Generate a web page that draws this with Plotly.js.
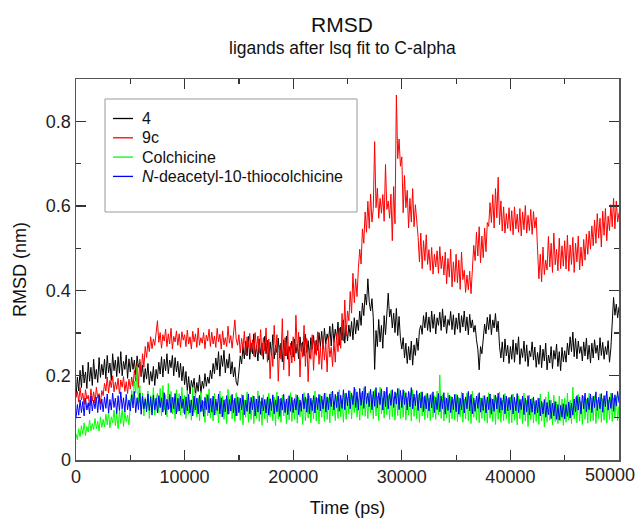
<!DOCTYPE html>
<html>
<head>
<meta charset="utf-8">
<script src="https://cdn.plot.ly/plotly-3.0.1.min.js"></script>
<style>html,body{margin:0;padding:0;background:#fff;}#chart{width:640px;height:518px;}</style>
</head>
<body>
<div id="chart"></div>
<script>
// Sampling interval of the read-off values (ps)
const timeStep = 125;

const seriesNames = ["4", "9c", "Colchicine", "<i>N</i>-deacetyl-10-thiocolchicine"];
const seriesColors = ["#000000", "#ff0000", "#00ff00", "#0000ff"];

const rmsd4 = [
0.148,0.196,0.163,0.212,0.171,0.224,0.182,0.208,0.169,0.231,0.186,0.219,0.176,0.238,0.191,0.214,0.183,0.242,0.195,0.226,
0.201,0.238,0.192,0.247,0.206,0.229,0.188,0.251,0.211,0.236,0.197,0.244,0.205,0.256,0.199,0.233,0.214,0.248,0.193,0.239,
0.208,0.243,0.214,0.236,0.201,0.246,0.219,0.232,0.197,0.224,0.183,0.216,0.191,0.228,0.178,0.209,0.186,0.221,0.176,0.214,
0.192,0.231,0.203,0.244,0.196,0.238,0.211,0.251,0.204,0.236,0.218,0.247,0.199,0.242,0.208,0.233,0.195,0.229,0.187,0.221,
0.178,0.209,0.164,0.197,0.156,0.188,0.171,0.193,0.152,0.183,0.162,0.201,0.158,0.186,0.169,0.204,0.174,0.196,0.181,0.212,
0.192,0.228,0.204,0.241,0.213,0.256,0.198,0.247,0.221,0.259,0.206,0.238,0.217,0.251,0.203,0.232,0.196,0.219,0.184,0.176,
0.208,0.246,0.227,0.268,0.239,0.281,0.246,0.292,0.238,0.276,0.251,0.298,0.243,0.271,0.234,0.286,0.249,0.276,0.238,0.292,
0.251,0.283,0.236,0.279,0.247,0.296,0.239,0.271,0.254,0.288,0.241,0.276,0.232,0.284,0.246,0.293,0.238,0.268,0.249,0.281,
0.243,0.286,0.252,0.274,0.239,0.291,0.257,0.279,0.246,0.297,0.254,0.282,0.241,0.289,0.262,0.294,0.251,0.283,0.259,0.301,
0.268,0.304,0.262,0.311,0.274,0.298,0.281,0.316,0.269,0.322,0.278,0.309,0.285,0.326,0.271,0.314,0.283,0.331,0.276,0.318,
0.281,0.319,0.292,0.327,0.284,0.336,0.298,0.331,0.306,0.352,0.318,0.371,0.341,0.392,0.366,0.428,0.374,0.352,0.381,0.336,
0.214,0.306,0.268,0.332,0.279,0.318,0.264,0.341,0.296,0.362,0.394,0.338,0.356,0.312,0.347,0.301,0.358,0.294,0.339,0.286,
0.262,0.289,0.241,0.276,0.228,0.268,0.236,0.281,0.224,0.272,0.247,0.288,0.259,0.306,0.318,0.297,0.341,0.312,0.349,0.306,
0.338,0.302,0.352,0.311,0.344,0.298,0.336,0.318,0.349,0.306,0.357,0.314,0.341,0.299,0.332,0.318,0.351,0.308,0.343,0.296,
0.336,0.309,0.347,0.301,0.341,0.314,0.352,0.305,0.338,0.296,0.344,0.312,0.331,0.302,0.318,0.284,0.262,0.213,0.268,0.251,
0.284,0.321,0.298,0.337,0.308,0.344,0.296,0.331,0.312,0.346,0.303,0.328,0.268,0.241,0.279,0.232,0.286,0.246,0.271,0.228,
0.268,0.238,0.284,0.231,0.276,0.249,0.291,0.226,0.263,0.242,0.281,0.233,0.272,0.221,0.258,0.244,0.279,0.236,0.267,0.219,
0.254,0.226,0.271,0.218,0.262,0.234,0.276,0.213,0.248,0.229,0.268,0.216,0.259,0.238,0.274,0.221,0.256,0.211,0.266,0.232,
0.258,0.231,0.276,0.248,0.291,0.256,0.302,0.244,0.287,0.239,0.281,0.252,0.268,0.234,0.279,0.246,0.288,0.238,0.271,0.229,
0.276,0.241,0.284,0.252,0.271,0.236,0.289,0.247,0.278,0.238,0.268,0.249,0.282,0.231,0.264,0.327,0.384,0.342,0.368,0.336,
0.362];

const rmsd9c = [
0.148,0.162,0.137,0.171,0.142,0.158,0.131,0.166,0.144,0.153,0.128,0.168,0.139,0.161,0.134,0.172,0.146,0.157,0.133,0.164,
0.152,0.181,0.163,0.196,0.158,0.188,0.171,0.199,0.161,0.184,0.167,0.193,0.156,0.189,0.172,0.197,0.162,0.185,0.157,0.191,
0.168,0.196,0.174,0.212,0.186,0.227,0.171,0.238,0.198,0.251,0.219,0.268,0.242,0.279,0.256,0.291,0.263,0.286,0.271,0.298,
0.329,0.278,0.301,0.264,0.296,0.281,0.309,0.268,0.298,0.274,0.311,0.262,0.292,0.279,0.305,0.271,0.298,0.266,0.303,0.283,
0.296,0.268,0.307,0.274,0.291,0.262,0.304,0.279,0.298,0.266,0.312,0.271,0.289,0.276,0.301,0.263,0.295,0.281,0.309,0.268,
0.302,0.274,0.293,0.266,0.311,0.279,0.297,0.262,0.305,0.272,0.289,0.268,0.316,0.276,0.294,0.264,0.308,0.331,0.286,0.271,
0.296,0.253,0.287,0.262,0.304,0.248,0.291,0.267,0.299,0.256,0.284,0.245,0.301,0.261,0.293,0.252,0.308,0.246,0.289,0.258,
0.312,0.231,0.286,0.192,0.264,0.221,0.318,0.248,0.296,0.186,0.271,0.238,0.334,0.213,0.289,0.246,0.306,0.198,0.276,0.229,
0.291,0.234,0.342,0.258,0.302,0.196,0.276,0.243,0.318,0.221,0.287,0.185,0.264,0.238,0.296,0.212,0.281,0.247,0.303,0.226,
0.268,0.214,0.289,0.236,0.276,0.208,0.291,0.243,0.266,0.221,0.284,0.231,0.298,0.256,0.312,0.264,0.346,0.281,0.378,0.293,
0.352,0.329,0.398,0.347,0.441,0.372,0.428,0.386,0.452,0.498,0.463,0.546,0.512,0.586,0.538,0.611,0.547,0.628,0.562,0.594,
0.752,0.596,0.642,0.571,0.618,0.583,0.627,0.564,0.698,0.592,0.612,0.571,0.628,0.518,0.646,0.558,0.862,0.712,0.758,0.694,
0.716,0.584,0.672,0.596,0.637,0.548,0.618,0.562,0.641,0.551,0.603,0.568,0.527,0.468,0.536,0.452,0.518,0.471,0.532,0.462,
0.497,0.448,0.502,0.439,0.486,0.456,0.494,0.441,0.504,0.452,0.482,0.437,0.491,0.416,0.476,0.432,0.498,0.409,0.468,0.421,
0.486,0.418,0.472,0.403,0.491,0.426,0.448,0.396,0.437,0.402,0.446,0.393,0.462,0.507,0.471,0.538,0.482,0.551,0.466,0.529,
0.478,0.548,0.492,0.561,0.552,0.608,0.561,0.627,0.548,0.641,0.572,0.668,0.556,0.612,0.541,0.598,0.536,0.582,0.547,0.596,
0.541,0.589,0.532,0.598,0.546,0.581,0.538,0.594,0.529,0.586,0.544,0.601,0.536,0.578,0.542,0.592,0.533,0.587,0.548,0.573,
0.497,0.428,0.486,0.421,0.503,0.438,0.472,0.449,0.528,0.456,0.512,0.443,0.536,0.461,0.498,0.447,0.524,0.452,0.506,0.458,
0.518,0.451,0.531,0.446,0.508,0.462,0.526,0.443,0.512,0.468,0.529,0.449,0.503,0.458,0.521,0.472,0.534,0.486,0.541,0.498,
0.553,0.506,0.567,0.512,0.582,0.524,0.571,0.503,0.588,0.531,0.594,0.518,0.576,0.542,0.603,0.551,0.618,0.546,0.612,0.562,
0.584];

const rmsdColchicine = [
0.062,0.048,0.074,0.055,0.081,0.061,0.088,0.058,0.079,0.066,0.094,0.069,0.086,0.072,0.098,0.074,0.091,0.068,0.102,0.077,
0.096,0.078,0.108,0.083,0.114,0.076,0.102,0.088,0.118,0.081,0.109,0.074,0.116,0.086,0.121,0.079,0.112,0.091,0.106,0.083,
0.128,0.164,0.142,0.186,0.158,0.221,0.132,0.176,0.118,0.158,0.104,0.148,0.121,0.163,0.098,0.152,0.112,0.171,0.106,0.143,
0.158,0.112,0.169,0.104,0.176,0.118,0.154,0.102,0.181,0.121,0.162,0.109,0.148,0.097,0.166,0.114,0.157,0.106,0.172,0.111,
0.153,0.098,0.164,0.108,0.142,0.094,0.171,0.112,0.158,0.101,0.147,0.093,0.162,0.116,0.139,0.089,0.156,0.104,0.168,0.099,
0.146,0.092,0.158,0.107,0.137,0.088,0.163,0.102,0.151,0.096,0.144,0.086,0.167,0.109,0.152,0.097,0.141,0.091,0.159,0.104,
0.148,0.094,0.156,0.083,0.142,0.101,0.161,0.089,0.137,0.096,0.152,0.086,0.145,0.098,0.163,0.091,0.139,0.082,0.154,0.097,
0.143,0.088,0.158,0.102,0.136,0.093,0.149,0.081,0.161,0.097,0.144,0.089,0.153,0.104,0.138,0.086,0.147,0.095,0.159,0.091,
0.141,0.096,0.155,0.087,0.148,0.102,0.137,0.084,0.159,0.093,0.145,0.099,0.152,0.088,0.141,0.097,0.163,0.092,0.146,0.085,
0.154,0.101,0.142,0.091,0.158,0.096,0.147,0.088,0.161,0.104,0.139,0.093,0.151,0.098,0.166,0.102,0.143,0.089,0.157,0.096,
0.148,0.108,0.163,0.097,0.152,0.112,0.168,0.101,0.143,0.094,0.159,0.106,0.171,0.103,0.149,0.098,0.162,0.111,0.154,0.097,
0.166,0.104,0.151,0.093,0.172,0.109,0.147,0.099,0.161,0.107,0.153,0.096,0.164,0.102,0.148,0.094,0.158,0.105,0.169,0.098,
0.152,0.101,0.163,0.094,0.148,0.106,0.159,0.092,0.166,0.103,0.147,0.097,0.154,0.089,0.161,0.104,0.149,0.095,0.157,0.099,
0.146,0.093,0.158,0.101,0.152,0.096,0.163,0.107,0.201,0.098,0.154,0.092,0.148,0.099,0.159,0.088,0.151,0.097,0.143,0.094,
0.156,0.091,0.148,0.102,0.161,0.089,0.144,0.097,0.158,0.093,0.151,0.086,0.163,0.101,0.142,0.094,0.155,0.088,0.147,0.098,
0.152,0.093,0.143,0.087,0.159,0.099,0.146,0.091,0.154,0.084,0.148,0.096,0.161,0.089,0.141,0.093,0.157,0.097,0.145,0.086,
0.149,0.088,0.156,0.094,0.138,0.083,0.152,0.097,0.144,0.086,0.158,0.092,0.141,0.079,0.153,0.095,0.146,0.087,0.139,0.091,
0.147,0.084,0.156,0.092,0.136,0.078,0.149,0.089,0.161,0.094,0.142,0.083,0.153,0.091,0.138,0.086,0.151,0.093,0.144,0.082,
0.146,0.089,0.158,0.094,0.141,0.086,0.172,0.097,0.149,0.088,0.155,0.092,0.139,0.084,0.151,0.096,0.144,0.087,0.158,0.091,
0.147,0.093,0.152,0.086,0.141,0.098,0.156,0.089,0.145,0.094,0.153,0.087,0.142,0.096,0.158,0.091,0.147,0.099,0.151,0.093,
0.128];

const rmsdThio = [
0.098,0.131,0.106,0.142,0.112,0.138,0.104,0.146,0.118,0.135,0.109,0.151,0.116,0.141,0.121,0.148,0.112,0.153,0.119,0.144,
0.114,0.149,0.122,0.156,0.111,0.143,0.118,0.158,0.124,0.146,0.109,0.152,0.117,0.161,0.121,0.147,0.113,0.155,0.119,0.142,
0.116,0.154,0.123,0.162,0.112,0.147,0.119,0.158,0.108,0.151,0.121,0.144,0.114,0.156,0.117,0.149,0.106,0.153,0.118,0.146,
0.111,0.152,0.124,0.147,0.113,0.159,0.107,0.143,0.119,0.155,0.112,0.148,0.121,0.157,0.109,0.146,0.116,0.151,0.122,0.144,
0.108,0.149,0.116,0.155,0.111,0.142,0.104,0.151,0.118,0.146,0.109,0.153,0.114,0.141,0.103,0.148,0.119,0.154,0.111,0.145,
0.113,0.151,0.106,0.144,0.117,0.156,0.109,0.147,0.102,0.142,0.114,0.152,0.108,0.143,0.116,0.155,0.111,0.146,0.104,0.149,
0.112,0.146,0.118,0.153,0.107,0.141,0.115,0.156,0.109,0.148,0.119,0.151,0.104,0.144,0.113,0.152,0.108,0.147,0.116,0.143,
0.111,0.149,0.106,0.145,0.117,0.154,0.109,0.142,0.114,0.151,0.103,0.146,0.118,0.155,0.112,0.144,0.107,0.152,0.115,0.148,
0.112,0.145,0.118,0.153,0.107,0.142,0.115,0.156,0.121,0.149,0.113,0.158,0.109,0.146,0.117,0.152,0.111,0.148,0.119,0.155,
0.116,0.151,0.121,0.158,0.113,0.149,0.119,0.156,0.126,0.163,0.118,0.155,0.124,0.161,0.115,0.153,0.122,0.166,0.119,0.158,
0.128,0.164,0.121,0.158,0.131,0.172,0.124,0.161,0.118,0.169,0.129,0.163,0.122,0.174,0.133,0.158,0.126,0.167,0.119,0.162,
0.127,0.171,0.123,0.159,0.131,0.168,0.118,0.163,0.126,0.172,0.121,0.157,0.129,0.166,0.124,0.161,0.132,0.169,0.119,0.164,
0.124,0.166,0.131,0.159,0.118,0.162,0.126,0.171,0.121,0.156,0.128,0.164,0.117,0.158,0.123,0.161,0.114,0.152,0.121,0.157,
0.116,0.154,0.123,0.161,0.112,0.148,0.119,0.157,0.114,0.151,0.121,0.159,0.108,0.146,0.117,0.153,0.112,0.149,0.119,0.155,
0.114,0.153,0.108,0.146,0.118,0.158,0.111,0.149,0.121,0.162,0.116,0.155,0.109,0.147,0.115,0.151,0.122,0.159,0.113,0.146,
0.117,0.152,0.111,0.149,0.119,0.156,0.108,0.144,0.115,0.153,0.121,0.158,0.112,0.147,0.118,0.154,0.109,0.151,0.116,0.148,
0.118,0.154,0.109,0.148,0.116,0.157,0.112,0.143,0.119,0.151,0.107,0.146,0.114,0.152,0.106,0.144,0.113,0.149,0.108,0.141,
0.111,0.146,0.104,0.139,0.109,0.143,0.101,0.136,0.107,0.141,0.098,0.134,0.104,0.138,0.096,0.131,0.094,0.129,0.101,0.133,
0.097,0.131,0.103,0.137,0.099,0.134,0.106,0.144,0.113,0.152,0.118,0.149,0.109,0.153,0.121,0.158,0.114,0.147,0.119,0.156,
0.112,0.151,0.124,0.161,0.117,0.148,0.121,0.157,0.113,0.152,0.126,0.163,0.118,0.149,0.122,0.158,0.115,0.154,0.128,0.162,
0.135];

const xTickVals = [0, 10000, 20000, 30000, 40000, 50000];
const xTickText = ["0", "10000", "20000", "30000", "40000", "50000"];
const yTickVals = [0, 0.2, 0.4, 0.6, 0.8];
const yTickText = ["0", "0.2", "0.4", "0.6", "0.8"];

const allSeries = [rmsd4, rmsd9c, rmsdColchicine, rmsdThio];
const time = rmsd4.map((_, i) => i * timeStep);

const traces = allSeries.map((vals, k) => ({
  type: "scatter", mode: "lines",
  x: time, y: vals,
  name: seriesNames[k],
  line: {color: seriesColors[k], width: 1},
  hoverinfo: "skip",
  showlegend: false
}));

// plot-area pixel geometry (for legend / subtitle placement)
const L = 76, R = 619, T = 79, B = 460;
const px = x => (x - L) / (R - L);
const py = y => (B - y) / (B - T);
const FONT = "Liberation Sans, Arial, sans-serif";

const lastIdx = xTickVals.length - 1;
// the last x tick label sits against the page edge, as in the reference: drawn as an annotation
const shownTickText = xTickText.map((t, i) => (i === lastIdx ? "" : t));

const shapes = [{
  type: "rect", xref: "paper", yref: "paper",
  x0: px(105), x1: px(357), y0: py(212), y1: py(99),
  line: {color: "#9a9a9a", width: 1}, fillcolor: "rgba(255,255,255,0)", layer: "above"
}];
const annotations = [{
  xref: "paper", yref: "paper", x: px(342), y: py(48), xanchor: "center", yanchor: "middle",
  showarrow: false, text: "ligands after lsq fit to C-alpha",
  font: {family: FONT, size: 17.5, color: "#111"}
}, {
  xref: "x", yref: "paper", x: xTickVals[lastIdx], y: py(475), xanchor: "right", yanchor: "middle",
  xshift: 18, showarrow: false, text: xTickText[lastIdx],
  font: {family: FONT, size: 18, color: "#222"}
}];
seriesNames.forEach((nm, k) => {
  const yc = 118.5 + k * 19.3;
  shapes.push({type: "line", xref: "paper", yref: "paper",
    x0: px(113), x1: px(133), y0: py(yc), y1: py(yc),
    line: {color: seriesColors[k], width: 1.3}, layer: "above"});
  annotations.push({xref: "paper", yref: "paper", x: px(140), y: py(yc),
    xanchor: "left", yanchor: "middle", showarrow: false, text: nm,
    font: {family: FONT, size: 16, color: "#111"}});
});

const axisCommon = {
  showline: true, linecolor: "#555", linewidth: 1.5, mirror: "allticks",
  ticks: "inside", ticklen: 10, tickwidth: 1.2, tickcolor: "#333",
  showgrid: false, zeroline: false, fixedrange: true,
  tickfont: {family: FONT, size: 18, color: "#222"}
};

const layout = {
  width: 640, height: 518,
  margin: {l: L, r: 640 - R, t: T, b: 518 - B},
  paper_bgcolor: "#fff", plot_bgcolor: "#fff",
  showlegend: false,
  font: {family: FONT, color: "#111"},
  title: {
    text: "RMSD",
    font: {family: FONT, size: 21, color: "#111"},
    xref: "paper", x: px(342), xanchor: "center",
    yref: "container", y: 1 - 25 / 518, yanchor: "middle"
  },
  xaxis: Object.assign({}, axisCommon, {
    range: [0, 50000],
    tickmode: "array", tickvals: xTickVals, ticktext: shownTickText,
    minor: {tickmode: "linear", tick0: 0, dtick: 5000, ticks: "inside", ticklen: 5, tickwidth: 1.2, tickcolor: "#333"},
    title: {text: "Time (ps)", font: {family: FONT, size: 18, color: "#111"}, standoff: 20}
  }),
  yaxis: Object.assign({}, axisCommon, {
    range: [0, 0.9],
    tickmode: "array", tickvals: yTickVals, ticktext: yTickText,
    minor: {tickmode: "linear", tick0: 0, dtick: 0.1, ticks: "inside", ticklen: 5, tickwidth: 1.2, tickcolor: "#333"},
    title: {text: "RMSD (nm)", font: {family: FONT, size: 18, color: "#111"}, standoff: 14}
  }),
  shapes: shapes,
  annotations: annotations
};

Plotly.newPlot("chart", traces, layout, {staticPlot: true, displayModeBar: false});
</script>
</body>
</html>
